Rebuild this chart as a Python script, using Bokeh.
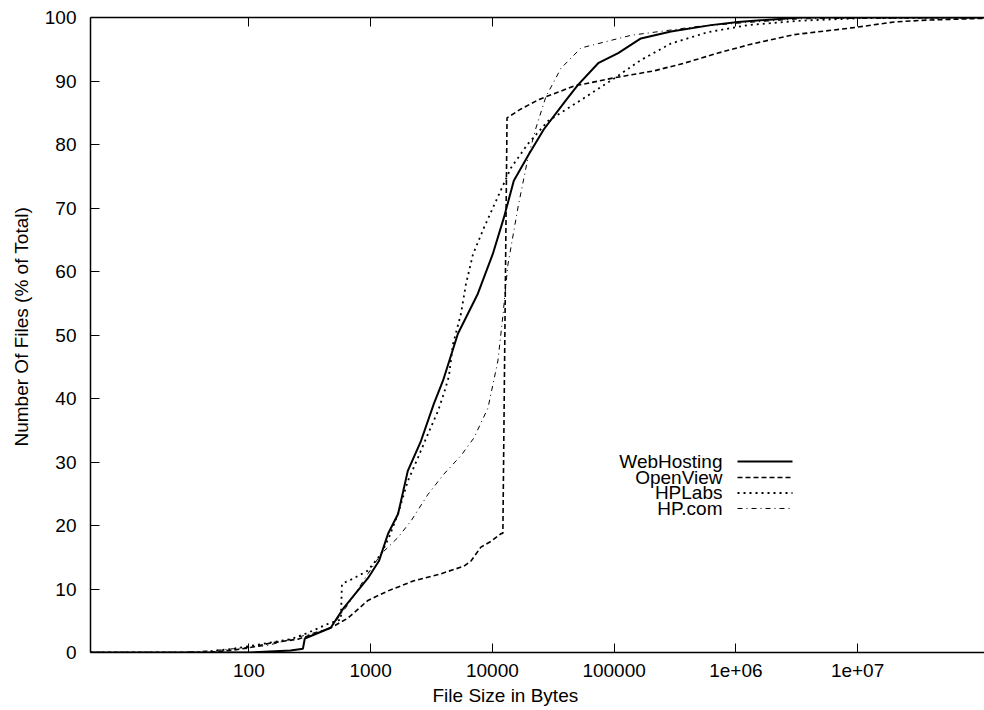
from bokeh.plotting import figure
from bokeh.models import (Range1d, LogAxis, FixedTicker, CustomJSTickFormatter,
                          Label, Arrow, Title)
from bokeh.embed import file_html
from bokeh.resources import INLINE

# ---------------- data ----------------
series_names = ["WebHosting", "OpenView", "HPLabs", "HP.com"]

webhosting_x = [5, 100, 220, 278, 288, 470, 600, 950, 1170, 1390, 1680, 2020, 2590, 3310,
                3930, 5210, 7600, 10100, 12400, 15000, 20000, 26500, 40000, 50500, 74000,
                108000, 166000, 293000, 625000, 1040000, 3440000, 1.2e8]
webhosting_y = [0, 0, 0.3, 0.6, 2.2, 3.9, 7.0, 11.7, 14.4, 18.7, 21.8, 28.6, 33.3, 39.2,
                42.8, 50.2, 56.5, 62.8, 68.4, 74.3, 78.5, 82.4, 86.9, 89.4, 92.8,
                94.4, 96.7, 97.8, 98.8, 99.3, 100, 100]

openview_x = [5, 45, 75, 98, 152, 253, 342, 472, 650, 950, 1390, 2270, 3780, 5850, 6670,
              8050, 9730, 11750, 12200, 13200, 17200, 24200, 46800, 100000, 213000,
              375000, 714000, 1330000, 3000000, 9270000, 20000000, 37900000, 1.2e8]
openview_y = [0, 0, 0.4, 0.7, 1.5, 2.1, 2.9, 3.9, 5.4, 8.2, 9.7, 11.3, 12.4, 13.6, 14.4,
              16.6, 17.5, 18.7, 18.8, 84.2, 85.6, 87.1, 89.2, 90.5, 91.6,
              92.8, 94.4, 95.8, 97.3, 98.4, 99.3, 99.6, 99.9]

hplabs_x = [5, 40, 75, 133, 221, 305, 446, 570, 581, 729, 950, 1216, 1413, 1675, 2022,
            2449, 2958, 3573, 4000, 4398, 4743, 5210, 5518, 6065, 6930, 8530, 10710,
            14200, 19580, 28630, 53400, 100000, 166000, 293000, 592000, 1260000,
            3440000, 10600000, 1.2e8]
hplabs_y = [0, 0, 0.6, 1.4, 2.1, 3.1, 4.5, 5.2, 10.8, 11.7, 12.9, 15.5, 18.1, 21.8, 27.0,
            30.7, 34.4, 38.0, 40.8, 43.5, 48.5, 51.5, 53.3, 58.0, 62.7, 66.9, 71.1,
            76.3, 80.1, 83.7, 87.0, 90.4, 93.3, 95.9, 97.7, 98.8,
            99.5, 99.9, 100]

hpcom_x = [5, 27, 51, 75, 143, 221, 342, 472, 650, 950, 1216, 1675, 2144, 2958, 4000,
           5520, 7060, 9200, 11100, 12200, 13400, 16200, 19600, 22800, 27500, 36600,
           53400, 138000, 489000, 1210000, 3440000, 1.2e8]
hpcom_y = [0, 0, 0.3, 0.6, 1.1, 2.1, 3.1, 3.9, 7.5, 12.4, 15.5, 18.1, 20.7, 24.9, 28.1,
           31.0, 33.8, 38.5, 45.9, 53.0, 61.0, 70.0, 77.9, 82.6, 87.5, 92.0,
           95.2, 97.2, 98.6, 99.2, 99.8, 100]

xtick_values = [100, 1000, 10000, 100000, 1000000, 10000000]
xtick_labels = ["100", "1000", "10000", "100000", "1e+06", "1e+07"]
ytick_values = [0, 10, 20, 30, 40, 50, 60, 70, 80, 90, 100]

x_title = "File Size in Bytes"
y_title = "Number Of Files (% of Total)"

# ---------------- styling ----------------
FONT = "Liberation Sans"
FSIZE = "19px"
styles = [
    dict(line_width=2.0, line_dash="solid"),
    dict(line_width=1.6, line_dash="5 3"),
    dict(line_width=1.8, line_dash="2 4"),
    dict(line_width=1.0, line_dash="5 4 1 4"),
]

p = figure(width=984, height=710, x_axis_type="log",
           x_range=Range1d(5, 1.103e8), y_range=Range1d(0, 100),
           output_backend="svg", toolbar_location=None,
           min_border_left=90, min_border_right=0,
           min_border_top=17, min_border_bottom=58)
p.outline_line_color = None
p.xgrid.visible = False
p.ygrid.visible = False
p.background_fill_color = "white"
p.border_fill_color = "white"

series = [(webhosting_x, webhosting_y), (openview_x, openview_y),
          (hplabs_x, hplabs_y), (hpcom_x, hpcom_y)]
for (xs, ys), st in zip(series, styles):
    p.line(xs, ys, line_color="black", **st)

# bottom axis
xa = p.xaxis[0]
xa.ticker = FixedTicker(ticks=xtick_values)
xa.formatter = CustomJSTickFormatter(
    args=dict(tv=xtick_values, tl=xtick_labels),
    code="const i = tv.indexOf(tick); return i >= 0 ? tl[i] : '';")
for ax in [xa, p.yaxis[0]]:
    ax.major_tick_in = 9
    ax.major_tick_out = 0
    ax.minor_tick_in = 0
    ax.minor_tick_out = 0
    ax.axis_line_width = 1.5
    ax.axis_line_color = "black"
    ax.major_tick_line_color = "black"
    ax.major_label_text_font = FONT
    ax.major_label_text_font_size = FSIZE
    ax.major_label_text_color = "black"
xa.major_label_standoff = 11
ya = p.yaxis[0]
ya.ticker = FixedTicker(ticks=ytick_values)
ya.major_label_standoff = 14

# mirrored ticks on top
top = LogAxis(ticker=FixedTicker(ticks=xtick_values), major_tick_in=9, major_tick_out=0,
              minor_tick_in=0, minor_tick_out=0, axis_line_width=1.5,
              major_label_text_font_size="0px", major_label_text_color=None,
              major_label_standoff=0)
p.add_layout(top, "above")

# axis titles
p.add_layout(Title(text=x_title, align="left", offset=342, vertical_align="bottom",
                   standoff=7, text_font=FONT, text_font_size=FSIZE,
                   text_font_style="normal", text_color="black"), "below")
p.add_layout(Title(text=y_title, align="left", offset=206, vertical_align="middle",
                   standoff=18, text_font=FONT, text_font_size=FSIZE,
                   text_font_style="normal", text_color="black"), "left")

# key (gnuplot style: text then sample)
key_text_x = 776600
key_line_x0, key_line_x1 = 1.032e6, 2.92e6
key_rows = [30.08, 27.56, 25.12, 22.68]
for name, st, ky in zip(series_names, styles, key_rows):
    p.add_layout(Label(x=key_text_x, y=ky, text=name, text_align="right",
                       text_baseline="middle", text_font=FONT, text_font_size=FSIZE,
                       text_color="black"))
    p.add_layout(Arrow(end=None, x_start=key_line_x0, x_end=key_line_x1,
                       y_start=ky, y_end=ky, line_color="black", **st))

open("out.html", "w").write(file_html(p, INLINE))
